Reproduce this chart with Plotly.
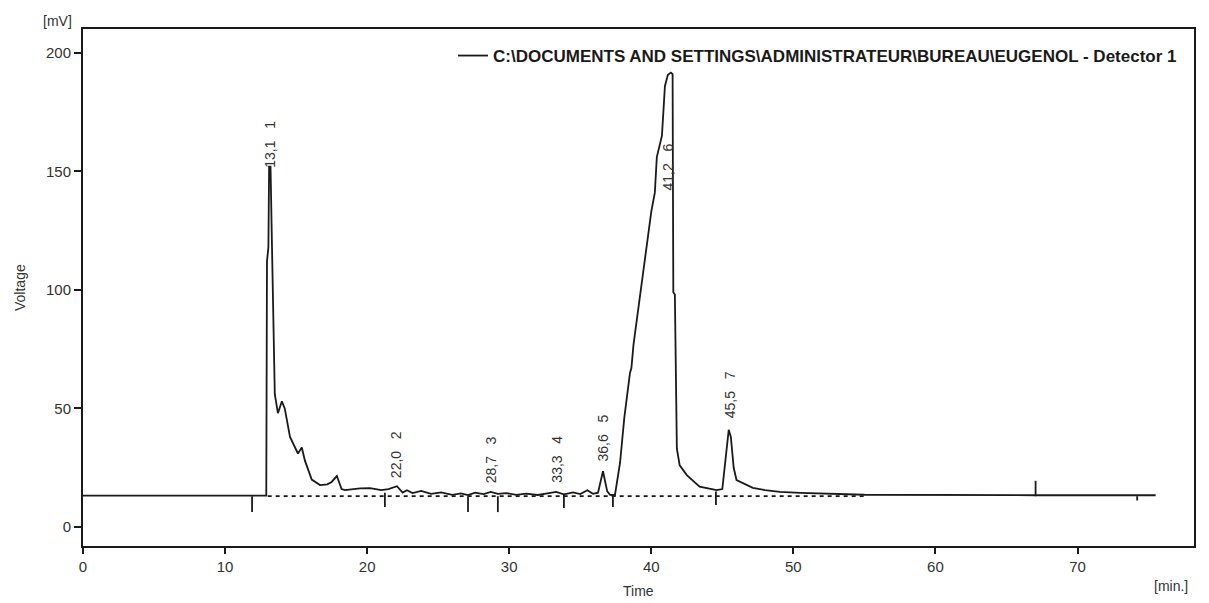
import plotly.graph_objects as go

# ---- signal ----
time_min = [0, 12.9, 12.95, 13.05, 13.1, 13.2, 13.3, 13.37, 13.5, 13.72, 14.0, 14.2, 14.57,
            15.13, 15.4, 15.62, 16.1, 16.68, 17.2, 17.5, 17.87, 18.2, 18.44, 19.5, 20.2, 21.0,
            21.5, 22.1, 22.5, 22.8, 23.2, 23.8, 24.5, 25.2, 26.0, 26.6, 27.1, 27.6, 28.2, 28.7,
            29.2, 29.8, 30.5, 31.2, 32.0, 32.8, 33.3, 33.85, 34.5, 35.0, 35.5, 35.9, 36.25, 36.6,
            36.9, 37.1, 37.44, 37.8, 38.1, 38.5, 38.6, 38.75, 39.76, 40.0, 40.25, 40.39, 40.75,
            40.96, 41.17, 41.38, 41.5, 41.55, 41.66, 41.8, 42.0, 42.5, 43.4, 44.6, 45.0, 45.25,
            45.45, 45.6, 45.8, 46.0, 47.15, 48.0, 49.05, 50.5, 52.0, 53.5, 55.0, 67.0, 75.5]
voltage_mv = [13.2, 13.2, 112, 118, 152, 152, 119, 95, 56, 48, 53, 50, 38,
              31, 33.5, 28, 20, 17.7, 18, 19, 21.5, 16, 15.6, 16.3, 16.4, 15.6,
              16, 17.2, 14.5, 15.5, 14.3, 15.2, 14.0, 14.6, 13.6, 14.2, 13.5, 14.5, 13.9, 14.8,
              14.0, 14.3, 13.6, 14.1, 13.5, 14.3, 14.8, 13.8, 14.6, 13.9, 15.5, 14.0, 14.5, 23.5,
              15.0, 13.6, 13.4, 27, 46, 65, 67, 77, 121, 133, 141, 156, 165,
              186, 190.7, 191.6, 191, 99, 98, 33, 26, 21.9, 17, 15.6, 16, 30,
              41, 38, 25, 19.8, 16.5, 15.6, 14.8, 14.4, 14.2, 13.9, 13.6, 13.4, 13.4]

# integration baseline
baseline_t = [13.0, 55.0]
baseline_v = [13.0, 13.0]

# peak start/end markers
marker_t = [11.9, 21.25, 27.1, 29.2, 33.85, 37.3, 44.55, 67.05, 74.2]
marker_low = [6.3, 8.4, 6.3, 6.3, 8.0, 8.4, 9.3, 13.0, 11.2]
marker_high = [13.0, 14.5, 13.0, 13.0, 13.5, 13.0, 15.0, 19.5, 13.0]

# peak labels
peak_rt = [13.1, 22.0, 28.7, 33.3, 36.6, 41.2, 45.5]
peak_rt_text = ["13,1", "22,0", "28,7", "33,3", "36,6", "41,2", "45,5"]
peak_no = ["1", "2", "3", "4", "5", "6", "7"]
label_base = [150.5, 19.8, 17.7, 17.7, 27.0, 141.0, 45.0]

x_ticks = [0, 10, 20, 30, 40, 50, 60, 70]
y_ticks = [0, 50, 100, 150, 200]

FONT = "Liberation Sans, Arial, sans-serif"
INK = "#1a1a1a"

fig = go.Figure()

fig.add_trace(go.Scatter(
    x=baseline_t, y=baseline_v, mode="lines",
    line=dict(color=INK, width=1.8, dash="4px,4px"),
    showlegend=False, hoverinfo="skip"))

mx, my = [], []
for t, lo, hi in zip(marker_t, marker_low, marker_high):
    mx += [t, t, None]
    my += [lo, hi, None]
fig.add_trace(go.Scatter(
    x=mx, y=my, mode="lines", line=dict(color=INK, width=1.8),
    showlegend=False, hoverinfo="skip"))

fig.add_trace(go.Scatter(
    x=time_min, y=voltage_mv, mode="lines",
    line=dict(color=INK, width=1.8),
    name="<b>C:\\DOCUMENTS AND SETTINGS\\ADMINISTRATEUR\\BUREAU\\EUGENOL - Detector 1</b>"))

annotations = []
for rt, rtt, no, yb in zip(peak_rt, peak_rt_text, peak_no, label_base):
    annotations.append(dict(
        x=rt, y=yb, xref="x", yref="y", text=rtt + "\u00a0\u00a0\u00a0" + no,
        textangle=-90, showarrow=False, xanchor="center", yanchor="bottom",
        font=dict(family=FONT, size=14, color="#333333")))

W, H = 1209, 603
L, R, T, B = 83, 15, 29, 57
pw, ph = W - L - R, H - T - B

def px(xp):
    return (xp - L) / pw

def py(yp):
    return (H - B - yp) / ph

annotations += [
    dict(x=px(20), y=py(288), xref="paper", yref="paper", text="Voltage", textangle=-90,
         showarrow=False, xanchor="center", yanchor="middle",
         font=dict(family=FONT, size=14, color="#333333")),
    dict(x=px(638), y=py(591), xref="paper", yref="paper", text="Time",
         showarrow=False, xanchor="center", yanchor="middle",
         font=dict(family=FONT, size=14, color="#333333")),
    dict(x=px(57), y=py(21), xref="paper", yref="paper", text="[mV]",
         showarrow=False, xanchor="center", yanchor="middle",
         font=dict(family=FONT, size=14, color="#333333")),
    dict(x=px(1171), y=py(586), xref="paper", yref="paper", text="[min.]",
         showarrow=False, xanchor="center", yanchor="middle",
         font=dict(family=FONT, size=14, color="#333333")),
]

axis_common = dict(showline=True, mirror=True, linecolor=INK, linewidth=2,
                   ticks="outside", tickcolor=INK, tickwidth=1.5,
                   showgrid=False, zeroline=False,
                   tickfont=dict(family=FONT, size=15, color="#333333"))

fig.update_layout(
    width=W, height=H,
    margin=dict(l=L, r=R, t=T, b=B),
    paper_bgcolor="white", plot_bgcolor="white",
    xaxis=dict(range=[0, 78.2], tickvals=x_ticks, ticklen=6, **axis_common),
    yaxis=dict(range=[-8, 210], tickvals=y_ticks, ticklen=7, **axis_common),
    showlegend=True,
    legend=dict(x=px(1182), y=py(38), xanchor="right", yanchor="top",
                bgcolor="rgba(0,0,0,0)", itemwidth=30,
                font=dict(family=FONT, size=17, color=INK)),
    annotations=annotations,
)

fig.write_html("out.html")
